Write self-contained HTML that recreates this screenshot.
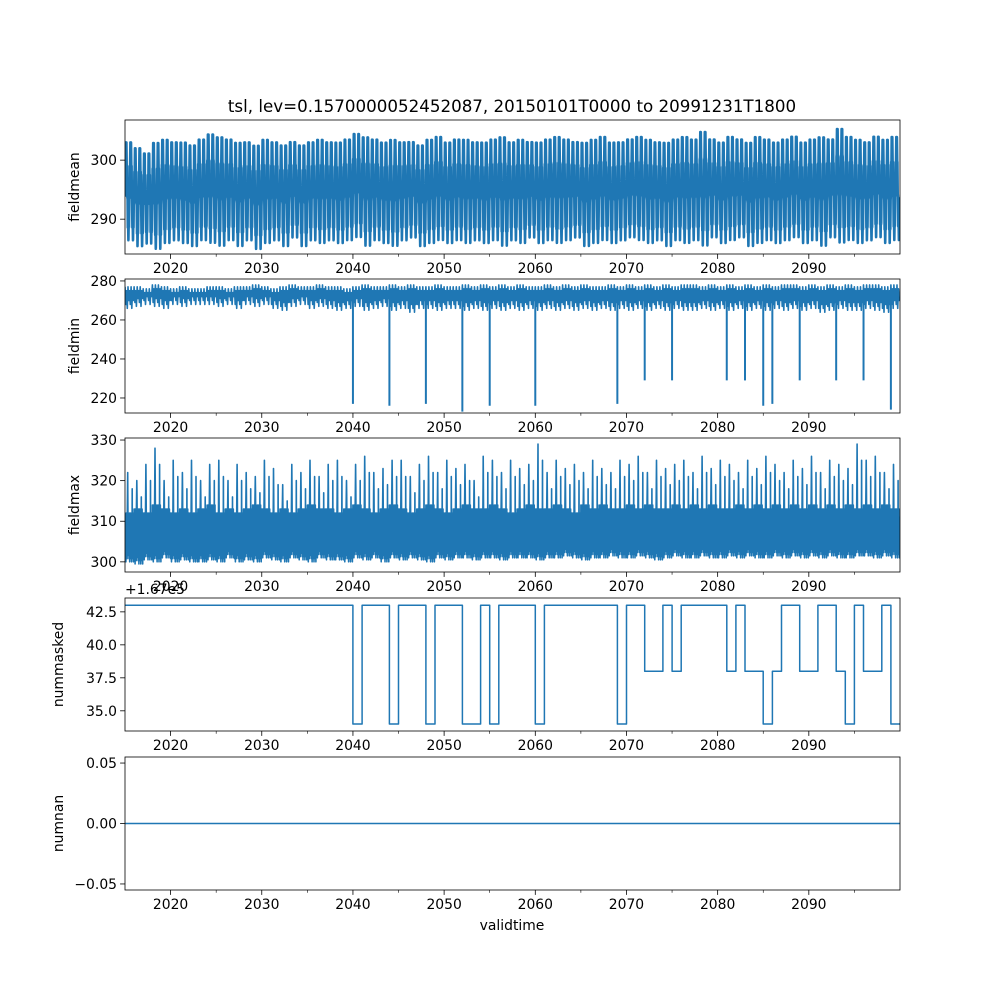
<!DOCTYPE html>
<html><head><meta charset="utf-8"><style>
body{margin:0;background:#fff}
svg text{font-family:"DejaVu Sans","Liberation Sans",sans-serif;font-size:13.9px;fill:#000}
</style></head><body>
<svg id="fig" width="1000" height="1000" viewBox="0 0 1000 1000">
<rect width="1000" height="1000" fill="#fff"/>
<text x="512" y="112" text-anchor="middle" style="font-size:16.7px">tsl, lev=0.1570000052452087, 20150101T0000 to 20991231T1800</text>
<g id="plots"></g>
<text x="512" y="930" text-anchor="middle">validtime</text>
</svg>
<script>
const xStart = 2015, xEnd = 2100;
const xTicks = [2020,2030,2040,2050,2060,2070,2080,2090];
const xMinorTicks = [2025,2035,2045,2055,2065,2075,2085,2095];
const meanMax = [303,302,301,303,303.5,303,303,302.5,303.5,304.5,304,303.5,303,303,302.5,303.5,303,302.5,303,302.5,303,303.5,303,303,303.5,304.5,304,303.5,303,303.5,303,303,302.5,303.5,304,303,303.5,303.5,303,303,303.5,304,303,303.5,303,303,303.5,304,303.5,303,303,303.5,304,303,303,303.5,304,303.5,303,303,303.5,304,303.5,305,303.5,303,304,303.5,303,304,303.5,303,303.5,304,303,303.5,304,303.5,305.5,304,303.5,303,304,303.5,304];
const meanMin = [287,286,286.5,285.5,286.5,287,286.5,286,287,286.5,286,287,286,287,285.5,286.5,287,286,287.5,286,287,286.5,287,286.5,287,287.5,286,287,286.5,286,287,287.5,286,286.5,287,286.5,287,286.5,287,286.5,287,286,287,286.5,287.5,286.5,287,286.5,287,287.5,286,286.5,287,286.5,287,287.5,287,286.5,287,286,287,286.5,287,286,287.5,286.5,287,287.5,286,286.5,287,286.5,287,287.5,286.5,287,286,287.5,286.5,287,286.5,287,287.5,286.5,287];
const minHigh = [277,277,276,278,277,276,277,276,276,277,277,276,277,277,278,277,276,277,278,277,277,278,277,277,276,277,278,277,277,278,277,278,277,277,278,277,277,278,277,278,277,278,277,278,277,277,278,277,278,277,278,277,277,278,277,278,277,278,277,278,277,278,278,277,278,277,278,277,278,277,278,277,278,278,277,278,277,278,277,278,277,278,278,277,278];
const minLow = [266,267,268,267,266,268,267,268,268,268,267,268,266,268,267,268,266,265,267,268,266,267,266,265,266,267,265,266,267,265,266,264,266,266,265,266,266,265,266,265,266,265,266,265,266,265,266,265,266,265,266,265,266,265,266,265,266,265,266,265,266,265,265,266,265,266,265,266,265,266,265,266,265,266,265,266,264,265,266,265,265,266,265,264,266];
const spikeYears = [2040,2044,2048,2052,2055,2060,2069,2072,2075,2081,2083,2085,2086,2089,2093,2096,2099];
const spikeVals = [217,216,217,213,216,216,217,229,229,229,229,216,217,229,229,229,214];
const maxPeak = [322,320,324,328,320,325,322,325,320,324,325,320,324,322,321,325,323,319,324,322,325,321,324,325,320,324,326,322,323,325,325,321,324,326,322,325,323,324,320,326,325,322,325,323,324,329,322,325,323,324,322,325,323,322,325,324,326,322,325,323,324,325,322,326,323,325,324,322,325,323,326,324,322,325,323,326,322,325,324,323,329,325,326,322,324];
const maxBand = [312,313,312,314,313,312,313,312,313,314,312,313,312,313,314,313,312,313,312,313,314,313,313,312,313,314,313,312,313,314,313,312,313,314,313,312,313,314,313,313,314,313,312,313,314,313,313,314,313,312,314,313,314,313,313,314,313,314,313,313,314,313,314,313,314,313,313,314,313,314,313,314,313,314,313,314,313,314,313,314,313,314,313,314,313];
const maxLow = [300,299.5,300.5,300,301,300,300.5,300,300,300.5,300,301,300,300.5,300,301,300.5,300,301,300.5,300,301,300.5,300.5,300,301,300.5,301,300,301,300.5,301,300.5,300,301,300.5,301,301,300.5,301,301,300.5,301,301,301,300.5,301,301,301.5,301,300.5,301,301,301.5,301,301,301.5,301,300.5,301,301.5,301,301,301.5,301,301,301.5,301,301.5,301,301,301.5,301,301.5,301,301.5,301,301.5,301,301,301.5,301.5,301,301.5,301];
const maskedStarts = [2015,2040,2041,2044,2045,2048,2049,2052,2054,2055,2056,2060,2061,2069,2070,2072,2074,2075,2076,2081,2082,2083,2085,2086,2087,2089,2091,2093,2094,2095,2096,2098,2099];
const maskedVals = [43,34,43,34,43,34,43,34,43,34,43,34,43,34,43,38,43,38,43,38,43,38,34,38,43,38,43,38,34,43,38,43,34];
const nanVals = [0,0];

const NS = "http://www.w3.org/2000/svg";
const L = 125, R = 900;
const BLUE = "#1f77b4";
const plots = document.getElementById("plots");
function xs(t){ return L + (t - xStart) / (xEnd - xStart) * (R - L); }
function mk(tag, attrs, parent){ const e = document.createElementNS(NS, tag); for (const k in attrs) e.setAttribute(k, attrs[k]); (parent||plots).appendChild(e); return e; }

const panels = [
  {name:"fieldmean", top:120, bot:254, lo:284.1, hi:306.8, ticks:[290,300], fmt:v=>String(v)},
  {name:"fieldmin", top:279, bot:413, lo:212.3, hi:281, ticks:[220,240,260,280], fmt:v=>String(v)},
  {name:"fieldmax", top:438, bot:572, lo:297.5, hi:330.5, ticks:[300,310,320,330], fmt:v=>String(v)},
  {name:"nummasked", top:598, bot:731, lo:33.47, hi:43.55, ticks:[35,37.5,40,42.5], fmt:v=>v.toFixed(1)},
  {name:"numnan", top:757, bot:890, lo:-0.055, hi:0.055, ticks:[-0.05,0,0.05], fmt:v=>(v<0?"\u22120.05":v.toFixed(2))}
];

panels.forEach((p, pi) => {
  const g = mk("g", {});
  
  
  const ys = v => p.bot - (v - p.lo) / (p.hi - p.lo) * (p.bot - p.top);
  const clipId = "clip" + pi;
  const cp = mk("clipPath", {id: clipId}, g);
  mk("rect", {x:L, y:p.top, width:R-L, height:p.bot-p.top}, cp);
  const dg = mk("g", {"clip-path":"url(#"+clipId+")"}, g);
  let pts = [];
  const nY = xEnd - xStart;
  if (pi === 0) {
    for (let i = 0; i < nY; i++) {
      const mid = (meanMax[i] + meanMin[i]) / 2, amp = (meanMax[i] - meanMin[i]) / 2;
      for (let k = 0; k < 32; k++) {
        const ph = k / 16 * Math.PI * 2;
        const wig = (k % 2 ? 1.2 : -1.2);
        pts.push([xs(xStart + i + k / 32), ys(mid + amp * Math.sin(ph) * 0.92 + wig)]);
      }
    }
  } else if (pi === 1) {
    for (let i = 0; i < nY; i++) {
      for (let k = 0; k < 12; k++) {
        const t = xStart + i + k / 12;
        pts.push([xs(t), ys(k % 2 ? minLow[i] + (k % 3) * 2 : minHigh[i] - (k % 4))]);
      }
    }
    pts.push([xs(xEnd), ys(272)]);
    spikeYears.forEach((y, j) => {
      const s = mk("line", {x1:xs(y), x2:xs(y), y1:ys(272), y2:ys(spikeVals[j]), stroke:BLUE, "stroke-width":2}, dg);
      
      
    });
  } else if (pi === 2) {
    for (let i = 0; i < nY; i++) {
      for (let k = 0; k < 48; k++) {
        const t = xStart + i + k / 48;
        let v;
        if (k === 14) v = maxPeak[i];
        else if (k === 13 || k === 15) v = (maxPeak[i] + maxBand[i]) / 2;
        else if (k === 38) v = maxPeak[i] - 4;
        else v = k % 2 ? maxLow[i] + (k % 5) * 0.8 : maxBand[i] - (k % 3) * 2;
        pts.push([xs(t), ys(v)]);
      }
    }
  } else if (pi === 3) {
    maskedStarts.forEach((s, j) => {
      const e = j + 1 < maskedStarts.length ? maskedStarts[j + 1] : xEnd;
      pts.push([xs(s), ys(maskedVals[j])], [xs(e), ys(maskedVals[j])]);
    });
  } else {
    pts.push([xs(xStart), ys(nanVals[0])], [xs(xEnd), ys(nanVals[1])]);
  }
  const sw = (pi === 3 || pi === 4) ? 1.5 : (pi === 0 ? 2.6 : 1.6);
  const line = mk("polyline", {points: pts.map(q => q[0].toFixed(1) + "," + q[1].toFixed(1)).join(" "), fill:"none", stroke:BLUE, "stroke-width":sw, "stroke-linejoin":"round"}, dg);
  
  
  mk("rect", {x:L, y:p.top, width:R-L, height:p.bot-p.top, fill:"none", stroke:"#000", "stroke-width":0.8}, g);
  xTicks.forEach(t => {
    mk("line", {x1:xs(t), x2:xs(t), y1:p.bot, y2:p.bot+4.9, stroke:"#000", "stroke-width":0.8}, g);
    const tx = mk("text", {x:xs(t), y:p.bot+19, "text-anchor":"middle"}, g);
    tx.textContent = t;
    
    
  });
  xMinorTicks.forEach(t => mk("line", {x1:xs(t), x2:xs(t), y1:p.bot, y2:p.bot+2.8, stroke:"#000", "stroke-width":0.6}, g));
  p.ticks.forEach(v => {
    const y = ys(v);
    mk("line", {x1:L-4.9, x2:L, y1:y, y2:y, stroke:"#000", "stroke-width":0.8}, g);
    const tx = mk("text", {x:L-8, y:y+5, "text-anchor":"end"}, g);
    tx.textContent = p.fmt(v);
    
    
  });
  const yl = mk("text", {x:0, y:0, "text-anchor":"middle", transform:"translate(" + (pi===3||pi===4 ? 63 : 79) + "," + ((p.top+p.bot)/2) + ") rotate(-90)"}, g);
  yl.textContent = p.name;
  
  
  if (pi === 3) {
    const off = mk("text", {x:L, y:p.top-4}, g);
    off.textContent = "+1.67e5";
    
    
  }
});
</script>
</body></html>
